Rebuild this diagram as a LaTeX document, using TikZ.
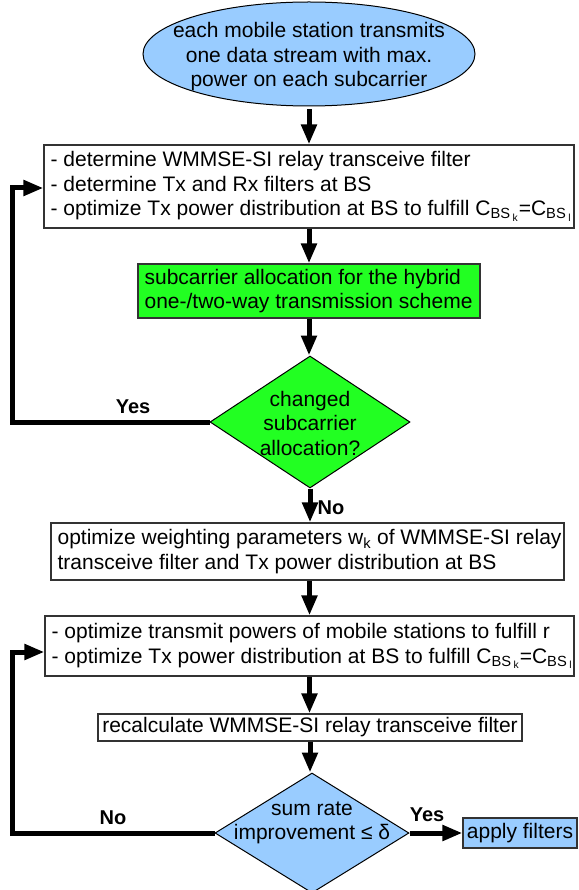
\documentclass[tikz,border=0pt]{standalone}
\usepackage{fontspec}
\setmainfont{Liberation Sans}
\usetikzlibrary{shapes.geometric,arrows.meta}
\definecolor{lblue}{RGB}{153,204,255}
\definecolor{lgreen}{RGB}{34,255,34}
\begin{document}
\begin{tikzpicture}[x=1pt,y=-1pt,
  txt/.style={font=\fontsize{21}{24.5}\selectfont, inner sep=0pt, align=left, anchor=west},
  ctxt/.style={font=\fontsize{21}{24.5}\selectfont, inner sep=0pt, align=center},
  box/.style={draw=black!80, line width=1.2pt, rectangle, inner sep=0pt},
  dia/.style={draw=black, line width=1pt, diamond, inner sep=0pt},
  arr/.style={line width=5pt, line join=miter, -{Triangle[length=20pt,width=15pt]}},
  lbl/.style={font=\fontsize{20}{24}\selectfont\bfseries, inner sep=0pt}]
\useasboundingbox (0,0) rectangle (578,890);

% start ellipse
\node[ellipse, draw=black, line width=1pt, fill=lblue, minimum width=332pt, minimum height=104pt, inner sep=0pt] (ell) at (309,54) {};
\node[ctxt] (ellt) at (309,57) {each mobile station transmits\\one data stream with max.\\power on each subcarrier};

% box 1
\node[box, minimum width=530pt, minimum height=83pt] (b1) at (309,186.5) {};
\node[txt] (b1t) at ([xshift=7pt]b1.west) {- determine WMMSE-SI relay transceive filter\\- determine Tx and Rx filters at BS\\- optimize Tx power distribution at BS to fulfill C\textsubscript{BS\,\textsubscript{k}}=C\textsubscript{BS\,\textsubscript{l}}};

% green box
\node[box, fill=lgreen, minimum width=342pt, minimum height=54pt] (g) at (309,291) {};
\node[txt] (gt) at ([xshift=7pt]g.west) {subcarrier allocation for the hybrid\\one-/two-way transmission scheme};

% diamond 1
\node[dia, fill=lgreen, minimum width=200pt, minimum height=132pt] (d1) at (310,422) {};
\node[ctxt] (d1t) at (310,423) {changed\\subcarrier\\allocation?};

% box 3
\node[box, minimum width=513pt, minimum height=57pt] (b3) at (307.5,551.5) {};
\node[txt] (b3t) at ([xshift=7pt]b3.west) {optimize weighting parameters w\textsubscript{k} of WMMSE-SI relay\\transceive filter and Tx power distribution at BS};

% box 4
\node[box, minimum width=529pt, minimum height=60pt] (b4) at (309.5,646) {};
\node[txt] (b4t) at ([xshift=7pt]b4.west) {- optimize transmit powers of mobile stations to fulfill r\\- optimize Tx power distribution at BS to fulfill C\textsubscript{BS\,\textsubscript{k}}=C\textsubscript{BS\,\textsubscript{l}}};

% box 5
\node[box, minimum width=424pt, minimum height=27pt] (b5) at (310,727.5) {};
\node[ctxt] (b5t) at (310,727.5) {recalculate WMMSE-SI relay transceive filter};

% diamond 2
\node[dia, fill=lblue, minimum width=194pt, minimum height=120pt] (d2) at (312,833) {};
\node[ctxt] (d2t) at (312,823) {sum rate\\improvement ≤ δ};

% apply filters
\node[box, fill=lblue, minimum width=114pt, minimum height=30pt] (ap) at (520,833) {};
\node[ctxt] (apt) at (520,833) {apply filters};

% connectors
\draw[arr] ([yshift=-3pt]ell.south -| b1.north) -- (b1.north);
\draw[arr] (b1.south) -- (g.north);
\draw[arr] (g.south) -- (g.south |- d1.north);
\draw[arr] (d1.south) -- (d1.south |- b3.north);
\draw[arr] (b3.south -| b4.north) -- (b4.north);
\draw[arr] (b4.south) -- (b4.south |- b5.north);
\draw[arr] (b5.south) -- (b5.south |- d2.north);
\draw[arr] (d2.east) -- (ap.west);

\coordinate (l1a) at (12,422);
\coordinate (l1b) at (12,188);
\draw[arr] (d1.west) -- (l1a) -- (l1b) -- (b1.west |- l1b);

\coordinate (l2a) at (12,833);
\coordinate (l2b) at (12,652);
\draw[arr] (d2.west) -- (l2a) -- (l2b) -- (b4.west |- l2b);

% labels
\node[lbl] (yes1) at (133,407) {Yes};
\node[lbl] (no1) at (331,508) {No};
\node[lbl] (no2) at (113,818) {No};
\node[lbl] (yes2) at (427,815) {Yes};
\end{tikzpicture}
\end{document}
